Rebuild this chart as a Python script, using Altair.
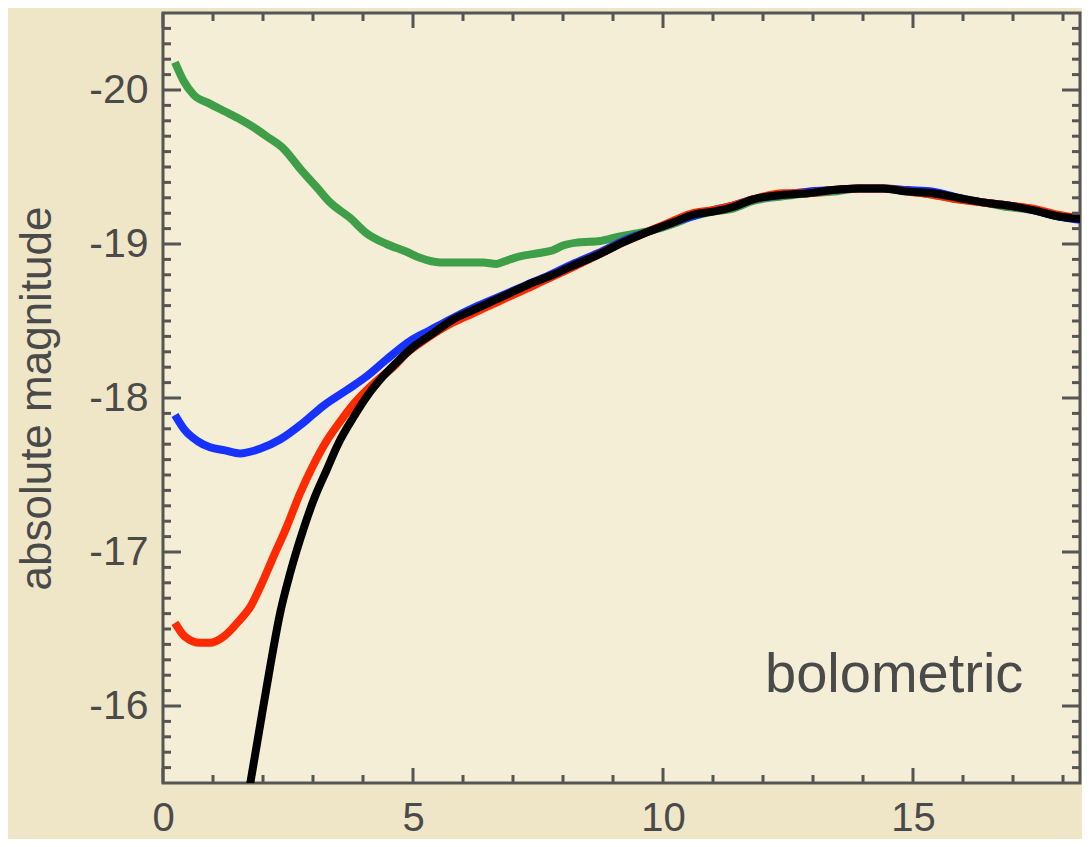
import altair as alt
import pandas as pd

# ---- data ----
green_x = [0.24, 0.41, 0.61, 0.94, 1.24, 1.54, 1.80, 2.07, 2.41, 2.74, 3.07, 3.34, 3.74, 4.07, 4.47, 4.87,
           5.14, 5.54, 6.07, 6.4, 6.67, 6.85, 7.14, 7.5, 7.8, 8.0, 8.3, 8.74, 9.14, 9.5, 9.8, 10.2, 10.6,
           11.0, 11.4, 11.8, 12.4, 12.9, 13.4, 13.9, 14.4, 14.9, 15.4, 15.9, 16.4, 16.9, 17.4, 17.9, 18.5]
green_y = [-20.18, -20.06, -19.97, -19.91, -19.86, -19.81, -19.76, -19.70, -19.62, -19.49, -19.37, -19.27,
           -19.17, -19.07, -19.00, -18.95, -18.91, -18.88, -18.88, -18.88, -18.87, -18.89, -18.92, -18.94,
           -18.96, -18.99, -19.01, -19.02, -19.05, -19.07, -19.09, -19.13, -19.18, -19.21, -19.23, -19.28,
           -19.31, -19.33, -19.34, -19.36, -19.36, -19.34, -19.32, -19.29, -19.27, -19.24, -19.22, -19.18, -19.16]

blue_x = [0.24, 0.44, 0.69, 0.94, 1.24, 1.54, 1.94, 2.34, 2.81, 3.21, 3.67, 4.07, 4.47, 4.94, 5.34, 5.74,
          6.24, 6.74, 7.24, 7.74, 8.2, 8.7, 9.2, 9.7, 10.2, 10.6, 11.0, 11.4, 11.8, 12.4, 12.9, 13.4, 13.9,
          14.4, 14.9, 15.4, 15.9, 16.4, 16.9, 17.4, 17.9, 18.5]
blue_y = [-17.89, -17.79, -17.72, -17.68, -17.66, -17.64, -17.67, -17.73, -17.84, -17.95, -18.05, -18.14,
          -18.25, -18.37, -18.44, -18.51, -18.59, -18.66, -18.73, -18.80, -18.87, -18.94, -19.02, -19.08,
          -19.14, -19.18, -19.22, -19.25, -19.29, -19.32, -19.34, -19.35, -19.36, -19.36, -19.35, -19.34,
          -19.30, -19.27, -19.25, -19.22, -19.18, -19.15]

red_x = [0.24, 0.44, 0.74, 0.94, 1.21, 1.54, 1.74, 1.94, 2.21, 2.47, 2.74, 3.0, 3.27, 3.55, 3.81, 4.07,
         4.34, 4.6, 4.87, 5.2, 5.74, 6.2, 6.6, 7.0, 7.41, 7.8, 8.2, 8.7, 9.2, 9.7, 10.2, 10.6, 11.0, 11.4,
         11.8, 12.4, 12.9, 13.4, 13.9, 14.4, 14.9, 15.4, 15.9, 16.4, 16.9, 17.4, 17.9, 18.5]
red_y = [-16.54, -16.45, -16.41, -16.41, -16.45, -16.56, -16.64, -16.77, -16.97, -17.16, -17.38, -17.56,
         -17.72, -17.85, -17.96, -18.05, -18.13, -18.20, -18.29, -18.37, -18.48, -18.55, -18.61, -18.67,
         -18.73, -18.79, -18.85, -18.93, -19.01, -19.08, -19.15, -19.20, -19.22, -19.25, -19.29, -19.33,
         -19.33, -19.35, -19.36, -19.36, -19.34, -19.32, -19.29, -19.27, -19.25, -19.23, -19.19, -19.16]

black_x = [1.72, 1.94, 2.14, 2.34, 2.54, 2.81, 3.04, 3.27, 3.5, 3.8, 4.1, 4.4, 4.7, 5.0, 5.4, 5.8, 6.2,
           6.6, 7.0, 7.4, 7.8, 8.2, 8.7, 9.2, 9.7, 10.2, 10.6, 11.0, 11.4, 11.8, 12.4, 12.9, 13.4, 13.9,
           14.4, 14.9, 15.4, 15.9, 16.4, 16.9, 17.4, 17.9, 18.5]
black_y = [-15.45, -15.87, -16.25, -16.60, -16.86, -17.15, -17.36, -17.53, -17.70, -17.87, -18.02, -18.14,
           -18.24, -18.33, -18.42, -18.51, -18.57, -18.63, -18.69, -18.75, -18.80, -18.86, -18.93, -19.01,
           -19.08, -19.14, -19.19, -19.21, -19.24, -19.29, -19.32, -19.33, -19.35, -19.36, -19.36, -19.34,
           -19.33, -19.30, -19.27, -19.25, -19.22, -19.18, -19.16]

x_major = [0, 5, 10, 15]
x_minor = [1, 2, 3, 4, 6, 7, 8, 9, 11, 12, 13, 14, 16, 17, 18]
y_major = [-20, -19, -18, -17, -16]
y_minor = [-20.4, -20.3, -20.2, -20.1,
           -19.9, -19.8, -19.7, -19.6, -19.5, -19.4, -19.3, -19.2, -19.1,
           -18.9, -18.8, -18.7, -18.6, -18.5, -18.4, -18.3, -18.2, -18.1,
           -17.9, -17.8, -17.7, -17.6, -17.5, -17.4, -17.3, -17.2, -17.1,
           -16.9, -16.8, -16.7, -16.6, -16.5, -16.4, -16.3, -16.2, -16.1,
           -15.9, -15.8, -15.7, -15.6]

label_text = ["bolometric"]
label_x = [12.04]
label_y = [-16.09]

# ---- styling ----
W, H = 917, 770
X_MAX = 18.34
INK = "#555555"
TXT = "#4a4a4a"
FONT = "Liberation Sans"

xs = alt.Scale(domain=[0, X_MAX], nice=False, zero=False)
ys = alt.Scale(domain=[-20.5, -15.5], nice=False, zero=False, reverse=True)


def curve(xv, yv, color):
    df = pd.DataFrame({"t": xv, "mag": yv})
    return alt.Chart(df).mark_line(color=color, strokeWidth=8, clip=True, strokeJoin="round",
                                   interpolate="monotone").encode(
        x=alt.X("t:Q", scale=xs, axis=alt.Axis(values=x_major, title=None, ticks=False, domain=False,
                                                grid=False, labelFontSize=40, labelColor=TXT, labelFont=FONT,
                                                labelPadding=15, labelFlush=False,
                                                labelExpr="'' + datum.value")),
        y=alt.Y("mag:Q", scale=ys, axis=alt.Axis(values=y_major, title="absolute magnitude", ticks=False,
                                                  domain=False, grid=False, labelFontSize=41, labelColor=TXT,
                                                  labelFont=FONT, labelPadding=15, labelFlush=False,
                                                  labelExpr="'' + datum.value",
                                                  titleFontSize=44, titleFont=FONT, titleColor=TXT,
                                                  titleFontWeight="normal", titlePadding=29)),
        order=alt.Order("t:Q"),
    )


def xticks(vals, length):
    df = pd.DataFrame({"t": vals})
    base = alt.Chart(df).mark_rule(color=INK, strokeWidth=3)
    bottom = base.encode(x=alt.X("t:Q", scale=xs), y=alt.value(H), y2=alt.value(H - length))
    top = base.encode(x=alt.X("t:Q", scale=xs), y=alt.value(0), y2=alt.value(length))
    return bottom + top


def yticks(vals, length):
    df = pd.DataFrame({"mag": vals})
    base = alt.Chart(df).mark_rule(color=INK, strokeWidth=3)
    left = base.encode(y=alt.Y("mag:Q", scale=ys), x=alt.value(0), x2=alt.value(length))
    right = base.encode(y=alt.Y("mag:Q", scale=ys), x=alt.value(W), x2=alt.value(W - length))
    return left + right


label = alt.Chart(pd.DataFrame({"t": label_x, "mag": label_y, "txt": label_text})).mark_text(
    align="left", baseline="alphabetic", fontSize=56, font=FONT, color=TXT
).encode(x=alt.X("t:Q", scale=xs), y=alt.Y("mag:Q", scale=ys), text="txt:N")

chart = alt.layer(
    curve(green_x, green_y, "#3e9f48"),
    curve(blue_x, blue_y, "#1732ff"),
    curve(red_x, red_y, "#ff2a00"),
    curve(black_x, black_y, "#000000"),
    xticks(x_major, 15), xticks(x_minor, 8),
    yticks(y_major, 18), yticks(y_minor, 8),
    label,
).properties(
    width=W, height=H,
    autosize=alt.AutoSizeParams(type="none"),
    padding={"left": 155, "top": 5, "right": 2, "bottom": 56},
    background="#efe6c7",
).configure_view(
    fill="#f4eed7", stroke=INK, strokeWidth=3
)

chart.save("out.html", embed_options={"renderer": "svg", "actions": False})
